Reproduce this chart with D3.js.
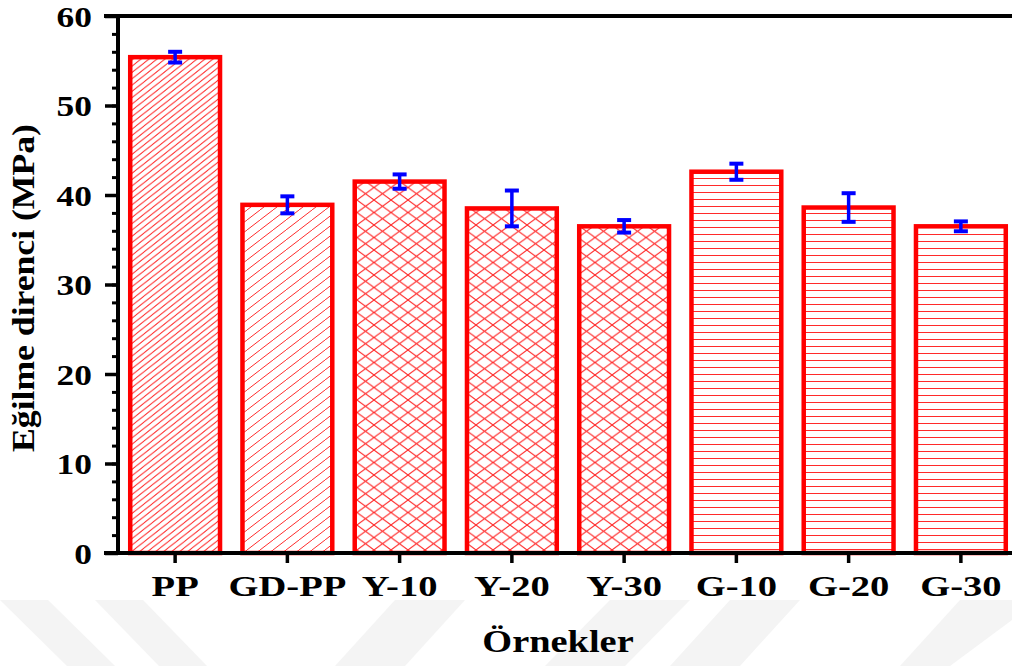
<!DOCTYPE html>
<html>
<head>
<meta charset="utf-8">
<script src="https://cdn.jsdelivr.net/npm/d3@7"></script>
<style>
  body { margin: 0; background: #fff; }
  svg { display: block; }
  text { font-family: "Liberation Serif", "Times New Roman", serif; font-weight: bold; fill: #000; }
</style>
</head>
<body>
<div id="chart"></div>
<script>
// sample names, flexural strength (MPa) and std deviation
var samples = ["PP", "GD-PP", "Y-10", "Y-20", "Y-30", "G-10", "G-20", "G-30"];
var strength = [55.4, 38.9, 41.5, 38.5, 36.5, 42.6, 38.6, 36.5];
var errors = [0.6, 0.95, 0.8, 2.0, 0.7, 0.9, 1.6, 0.55];
var fills = ["diagDense", "diagWide", "cross", "cross", "cross", "horiz", "horiz", "horiz"];
var yTicks = [0, 10, 20, 30, 40, 50, 60];

var svgWidth = 1012, svgHeight = 666;

var svg = d3.select("#chart")
  .append("svg")
  .attr("width", svgWidth)
  .attr("height", svgHeight);

// faint watermark bands at the bottom
var bands = [
  [[0, 600], [48, 600], [115, 666], [67, 666]],
  [[95, 600], [143, 600], [207, 666], [159, 666]],
  [[395, 600], [465, 600], [405, 666], [335, 666]],
  [[610, 600], [690, 600], [625, 666], [545, 666]],
  [[730, 600], [800, 600], [740, 666], [670, 666]],
  [[960, 600], [1012, 600], [1012, 620], [950, 666], [900, 666]]
];
svg.selectAll(".wm")
  .data(bands)
  .enter()
  .append("polygon")
  .attr("points", d => d.map(p => p.join(",")).join(" "))
  .attr("fill", "#f4f4f4");

// hatch patterns
var defs = svg.append("defs");
function diagPattern(id, w, h) {
  var p = defs.append("pattern")
    .attr("id", id)
    .attr("patternUnits", "userSpaceOnUse")
    .attr("width", w)
    .attr("height", h);
  p.append("path")
    .attr("d", `M0,${h} L${w},0 M-2,2 L2,-2 M${w - 2},${h + 2} L${w + 2},${h - 2}`)
    .attr("stroke", "#ff2a2a")
    .attr("stroke-width", 1);
}
diagPattern("diagDense", 8, 6.3);
diagPattern("diagWide", 13, 10);

var cross = defs.append("pattern")
  .attr("id", "cross")
  .attr("patternUnits", "userSpaceOnUse")
  .attr("width", 17)
  .attr("height", 12.5);
cross.append("path")
  .attr("d", "M0,0 L17,12.5 M0,12.5 L17,0")
  .attr("stroke", "#ff2a2a")
  .attr("stroke-width", 1.1);

var horiz = defs.append("pattern")
  .attr("id", "horiz")
  .attr("patternUnits", "userSpaceOnUse")
  .attr("width", 10)
  .attr("height", 7);
horiz.append("path")
  .attr("d", "M0,3.5 L10,3.5")
  .attr("stroke", "#ff2a2a")
  .attr("stroke-width", 1);

// scales
var xScale = d3.scaleBand()
  .domain(samples)
  .range([119, 1017])
  .paddingInner(0.2)
  .paddingOuter(0.1);

var yScale = d3.scaleLinear()
  .domain([0, 60])
  .range([553, 16]);

// bars
svg.selectAll(".bar")
  .data(samples)
  .enter()
  .append("rect")
  .attr("class", "bar")
  .attr("x", d => xScale(d))
  .attr("width", xScale.bandwidth())
  .attr("y", (d, i) => yScale(strength[i]))
  .attr("height", (d, i) => yScale(0) - yScale(strength[i]))
  .attr("fill", (d, i) => `url(#${fills[i]})`)
  .attr("stroke", "#ff0000")
  .attr("stroke-width", 4.5);

// error bars
var errGroup = svg.append("g")
  .attr("stroke", "#0000ff");
samples.forEach(function (s, i) {
  var cx = xScale(s) + xScale.bandwidth() / 2;
  var top = yScale(strength[i] + errors[i]);
  var bot = yScale(strength[i] - errors[i]);
  errGroup.append("line")
    .attr("x1", cx).attr("x2", cx)
    .attr("y1", top).attr("y2", bot)
    .attr("stroke-width", 3.5);
  errGroup.append("line")
    .attr("x1", cx - 7).attr("x2", cx + 7)
    .attr("y1", top).attr("y2", top)
    .attr("stroke-width", 4);
  errGroup.append("line")
    .attr("x1", cx - 7).attr("x2", cx + 7)
    .attr("y1", bot).attr("y2", bot)
    .attr("stroke-width", 4);
});

// y axis: minor ticks, major ticks
var yMinor = d3.axisLeft(yScale)
  .tickValues(d3.range(0, 61, 2))
  .tickSize(6)
  .tickFormat("");
svg.append("g")
  .attr("transform", "translate(118,0)")
  .call(yMinor)
  .call(g => g.select(".domain").remove())
  .call(g => g.selectAll("line").attr("stroke", "#000").attr("stroke-width", 3));

var yAxis = d3.axisLeft(yScale)
  .tickValues(yTicks)
  .tickSize(13)
  .tickFormat(d3.format("d"));
var yG = svg.append("g")
  .attr("transform", "translate(118,0)")
  .call(yAxis);
yG.select(".domain").remove();
yG.selectAll("line").attr("stroke", "#000").attr("stroke-width", 3.5);
yG.selectAll("text")
  .attr("x", 0)
  .attr("dy", null)
  .attr("font-size", 30)
  .attr("text-anchor", "end")
  .attr("transform", "translate(-26,10) scale(1.18,1)")
  .style("font-family", "Liberation Serif")
  .style("font-weight", "bold");

// x axis
var xAxis = d3.axisBottom(xScale)
  .tickSize(10)
  .tickSizeOuter(0);
var xG = svg.append("g")
  .attr("transform", "translate(0,553)")
  .call(xAxis);
xG.select(".domain").remove();
xG.selectAll("line").attr("stroke", "#000").attr("stroke-width", 3.5);
xG.selectAll("text")
  .attr("y", 0)
  .attr("dy", null)
  .attr("font-size", 29)
  .attr("transform", "translate(0,43) scale(1.33,1)")
  .style("font-family", "Liberation Serif")
  .style("font-weight", "bold");

// frame lines: left axis, bottom axis, top border
svg.append("line")
  .attr("x1", 118).attr("x2", 118)
  .attr("y1", 14).attr("y2", 555)
  .attr("stroke", "#000").attr("stroke-width", 4);
svg.append("line")
  .attr("x1", 104).attr("x2", svgWidth)
  .attr("y1", 553).attr("y2", 553)
  .attr("stroke", "#000").attr("stroke-width", 4);
svg.append("line")
  .attr("x1", 104).attr("x2", svgWidth)
  .attr("y1", 16).attr("y2", 16)
  .attr("stroke", "#000").attr("stroke-width", 4);

// axis titles
svg.append("text")
  .attr("transform", "translate(558,652) scale(1.2,1)")
  .attr("text-anchor", "middle")
  .attr("font-size", 32)
  .text("Örnekler");

svg.append("text")
  .attr("transform", "translate(34,288) rotate(-90) scale(1.15,1)")
  .attr("text-anchor", "middle")
  .attr("font-size", 31)
  .text("Eğilme direnci (MPa)");
</script>
</body>
</html>
